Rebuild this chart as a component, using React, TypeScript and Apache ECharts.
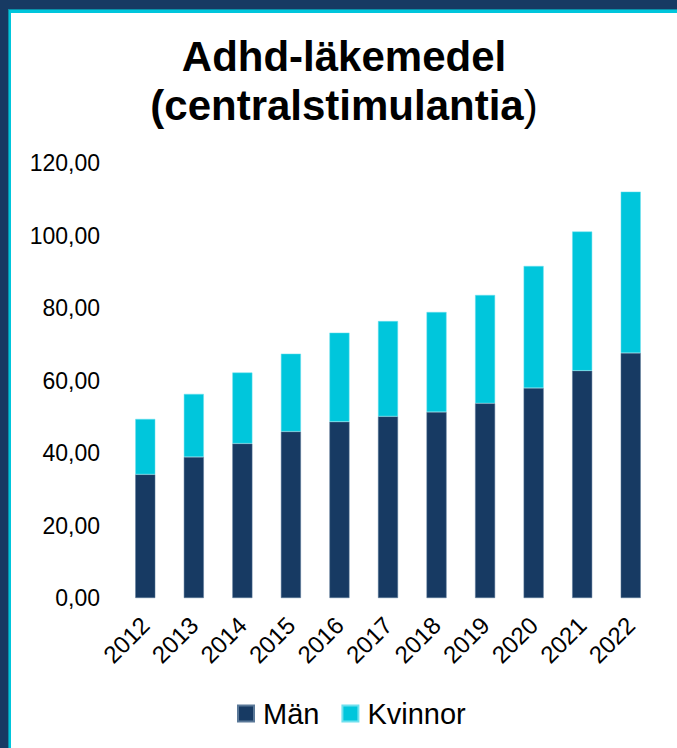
import React, { useEffect, useRef } from "react";
import * as echarts from "echarts";

const years = ["2012", "2013", "2014", "2015", "2016", "2017", "2018", "2019", "2020", "2021", "2022"];
const men = [34.1, 38.9, 42.6, 45.9, 48.6, 50.1, 51.3, 53.7, 57.9, 62.7, 67.6];
const women = [15.3, 17.4, 19.6, 21.5, 24.6, 26.3, 27.6, 29.9, 33.7, 38.4, 44.5];
const yTicks = [0, 20, 40, 60, 80, 100, 120];
const seriesNames = ["Män", "Kvinnor"];

const NAVY = "#173a63";
const CYAN = "#00c6dc";
const FONT = "'Liberation Sans', Arial, sans-serif";

export default function App() {
  const ref = useRef<HTMLDivElement>(null);
  useEffect(() => {
    document.body.style.margin = "0";
    const chart = echarts.init(ref.current!, undefined, { renderer: "svg" });
    chart.setOption({
      animation: false,
      backgroundColor: "#ffffff",
      textStyle: { fontFamily: FONT },
      graphic: [
        { type: "rect", z: -10, shape: { x: 0, y: 0, width: 677, height: 748 }, style: { fill: NAVY } },
        { type: "rect", z: -9, shape: { x: 8, y: 9, width: 669, height: 739 }, style: { fill: "#0a8fa8" } },
        { type: "rect", z: -8, shape: { x: 9, y: 10, width: 668, height: 738 }, style: { fill: CYAN } },
        { type: "rect", z: -7, shape: { x: 11, y: 13, width: 666, height: 735 }, style: { fill: "#ffffff" } },
        {
          type: "text",
          x: 344,
          y: 32,
          style: {
            text: "{b|Adhd-läkemedel}\n{b|(centralstimulantia}{r|)}",
            align: "center",
            verticalAlign: "top",
            rich: {
              b: { fontFamily: FONT, fontSize: 42, fontWeight: "bold", lineHeight: 49, fill: "#000" },
              r: { fontFamily: FONT, fontSize: 42, fontWeight: "normal", lineHeight: 49, fill: "#000" },
            },
          },
        },
      ],
      grid: { left: 121, right: 22, top: 163, bottom: 150, containLabel: false },
      legend: {
        data: seriesNames,
        left: 232,
        top: 694,
        itemWidth: 16,
        itemHeight: 16,
        itemGap: 22,
        icon: "rect",
        textStyle: { fontSize: 29, color: "#000", fontFamily: FONT, padding: [0, 0, 0, 4] },
      },
      xAxis: {
        type: "category",
        data: years,
        axisLine: { show: false },
        axisTick: { show: false },
        axisLabel: { rotate: 45, fontSize: 24, color: "#000", margin: 23, fontFamily: FONT },
      },
      yAxis: {
        type: "value",
        min: yTicks[0],
        max: yTicks[yTicks.length - 1],
        interval: 20,
        splitLine: { show: false },
        axisLine: { show: false },
        axisTick: { show: false },
        axisLabel: {
          fontSize: 23,
          color: "#000",
          margin: 21,
          fontFamily: FONT,
          formatter: (v: number) => v.toFixed(2).replace(".", ","),
        },
      },
      series: [
        {
          name: seriesNames[0],
          type: "bar",
          stack: "total",
          barWidth: 20,
          data: men,
          itemStyle: { color: NAVY, borderColor: "#5a7898", borderWidth: 0.5 },
        },
        {
          name: seriesNames[1],
          type: "bar",
          stack: "total",
          barWidth: 20,
          data: women,
          itemStyle: { color: CYAN, borderColor: "#6fe0ee", borderWidth: 0.5 },
        },
      ],
    });
    return () => chart.dispose();
  }, []);
  return <div ref={ref} style={{ position: "absolute", left: 0, top: 0, width: 677, height: 748 }} />;
}
